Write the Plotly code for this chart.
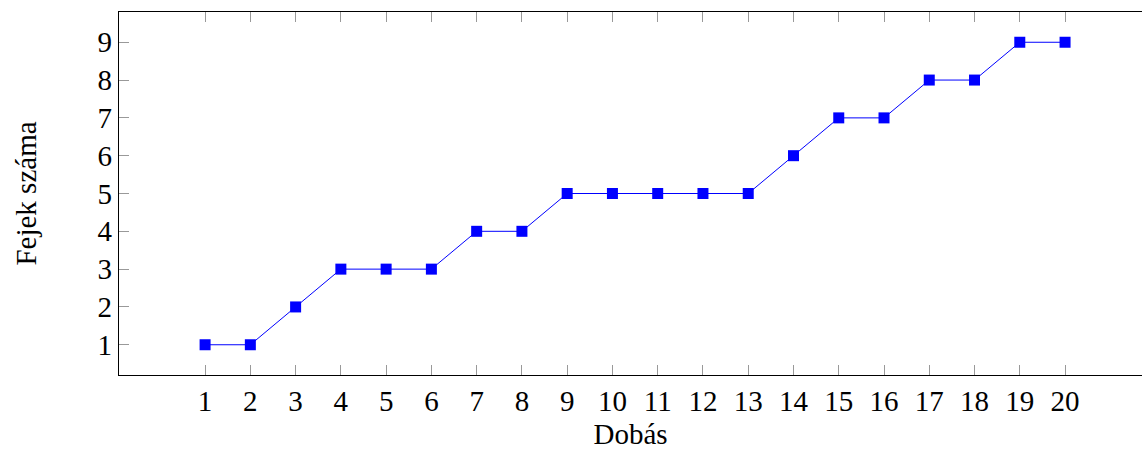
import plotly.graph_objects as go

# Number of heads after each coin toss
dobas = list(range(1, 21))
fejek = [1, 1, 2, 3, 3, 3, 4, 4, 5, 5, 5, 5, 5, 6, 7, 7, 8, 8, 9, 9]
y_ticks = [1, 2, 3, 4, 5, 6, 7, 8, 9]

FONT = "Liberation Serif"
SIZE = 29

fig = go.Figure(
    go.Scatter(
        x=dobas,
        y=fejek,
        mode="lines+markers",
        line=dict(color="#0000ff", width=1),
        marker=dict(symbol="square", size=11, color="#0000ff",
                    line=dict(width=0)),
        showlegend=False,
    )
)

fig.update_layout(
    width=1142,
    height=450,
    margin=dict(l=119, r=0, t=12, b=75),
    paper_bgcolor="white",
    plot_bgcolor="white",
    font=dict(family=FONT, size=SIZE, color="black"),
)

fig.update_xaxes(
    range=[-0.902, 21.7],
    tickmode="array",
    tickvals=dobas,
    ticktext=[str(v) for v in dobas],
    ticks="inside",
    ticklen=10,
    tickwidth=1,
    tickcolor="#999999",
    showline=True,
    linecolor="black",
    linewidth=1.3,
    mirror="ticks",
    showgrid=False,
    zeroline=False,
    title=dict(text="Dobás", font=dict(family=FONT, size=SIZE), standoff=9),
)

fig.update_yaxes(
    range=[0.2, 9.8],
    tickmode="array",
    tickvals=y_ticks,
    ticktext=[str(v) for v in y_ticks],
    ticks="inside",
    ticklen=10,
    tickwidth=1,
    tickcolor="#999999",
    showline=True,
    linecolor="black",
    linewidth=1.3,
    mirror=False,
    showgrid=False,
    zeroline=False,
    title=dict(text="Fejek száma", font=dict(family=FONT, size=SIZE), standoff=52),
)

fig.write_html("out.html")
